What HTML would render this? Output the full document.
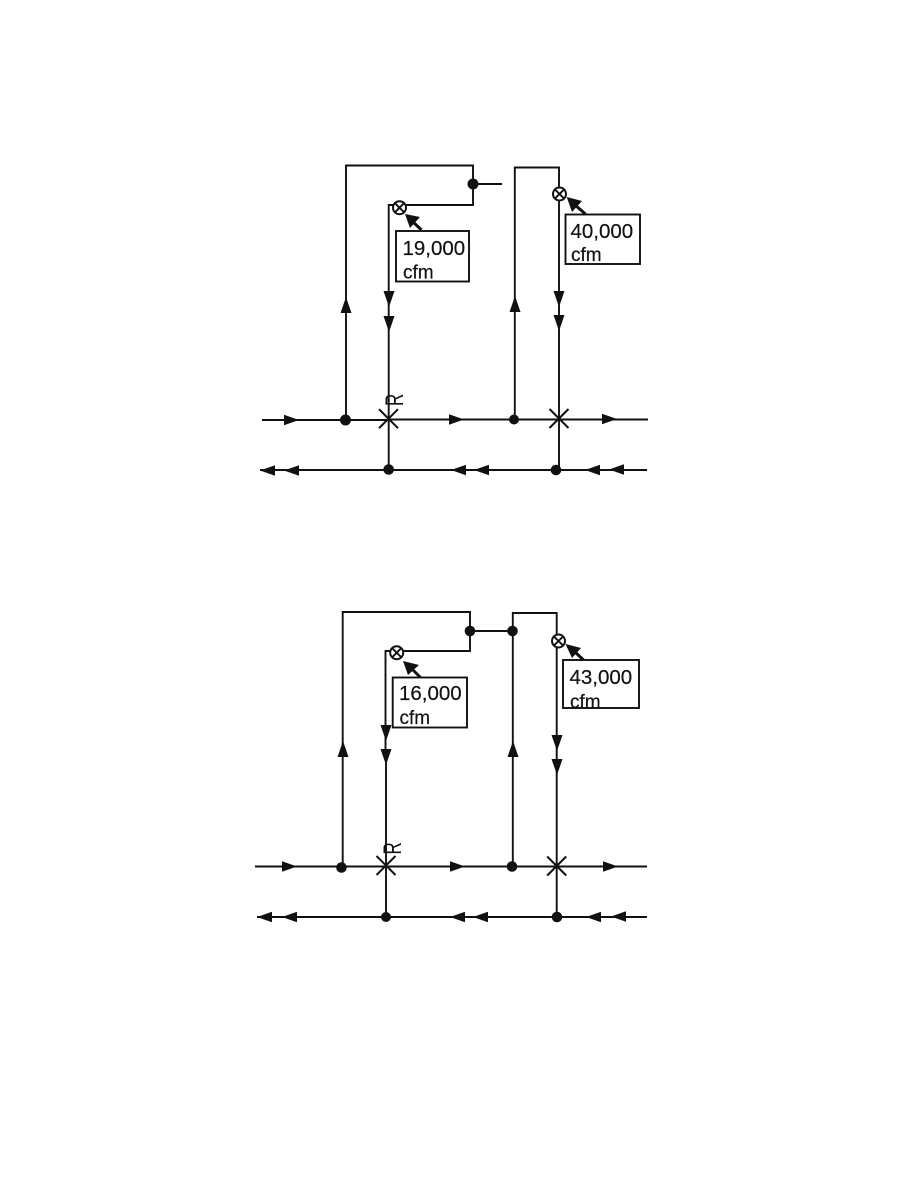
<!DOCTYPE html>
<html><head><meta charset="utf-8"><style>
html,body{margin:0;padding:0;background:#fff;width:918px;height:1188px;overflow:hidden}
svg{display:block}
text{font-family:"Liberation Sans",sans-serif;fill:#111;stroke:#111;stroke-width:.2}
</style></head><body>
<svg width="918" height="1188" viewBox="0 0 918 1188" xmlns="http://www.w3.org/2000/svg">
<defs>
<polygon id="r" points="0,0 -15,-5.2 -15,5.2" fill="#111"/>
<polygon id="l" points="0,0 15,-5.2 15,5.2" fill="#111"/>
<polygon id="u" points="0,0 -5.5,16 5.5,16" fill="#111"/>
<polygon id="d" points="0,0 -5.5,-16 5.5,-16" fill="#111"/>
<path id="x" d="M-9.5,-9.5L9.5,9.5M-9.5,9.5L9.5,-9.5" stroke="#111" stroke-width="2" fill="none"/>
<g id="v"><circle r="6.5" fill="#fff" stroke="#111" stroke-width="2"/><path d="M-4.6,-4.6L4.6,4.6M-4.6,4.6L4.6,-4.6" stroke="#111" stroke-width="1.9"/></g>
</defs>

<g fill="none" stroke="#111" stroke-width="1.9">
<path d="M262,420H388M388,419.5H648"/>
<path d="M260,470H647"/>
<path d="M346,420V165.5H473V205H388.7V470"/>
<path d="M473,184H502"/>
<path d="M514.8,420V167.5H559V470"/>
<rect x="396" y="231" width="73" height="50.5" fill="#fff"/>
<rect x="565.5" y="214.5" width="74.5" height="49.5" fill="#fff"/>

<path d="M255,866.5H647"/>
<path d="M257,917H647"/>
<path d="M342.7,867V612H470V651H385.5V760M386,760V917"/>
<path d="M470,631H513"/>
<path d="M512.8,867V613H556.7V917"/>
<rect x="392.7" y="677.5" width="74.3" height="50" fill="#fff"/>
<rect x="563" y="660" width="76" height="48" fill="#fff"/>
</g>

<g fill="#111">
<circle cx="345.5" cy="420" r="5.5"/><circle cx="514" cy="419.5" r="5"/><circle cx="388.7" cy="469.5" r="5.3"/><circle cx="556" cy="470" r="5.3"/><circle cx="473" cy="184" r="5.5"/>
<circle cx="341.5" cy="867.5" r="5.3"/><circle cx="512" cy="866.5" r="5.3"/><circle cx="386" cy="917" r="5"/><circle cx="557" cy="917" r="5.3"/><circle cx="470" cy="631" r="5.3"/><circle cx="512.5" cy="631" r="5.3"/>
</g>

<use href="#r" x="299" y="420"/><use href="#r" x="464" y="419.5"/><use href="#r" x="617" y="419"/>
<use href="#l" x="260" y="470.5"/><use href="#l" x="284" y="470.5"/><use href="#l" x="451" y="470"/><use href="#l" x="474" y="470"/><use href="#l" x="585" y="470"/><use href="#l" x="609" y="469.5"/>
<use href="#u" x="346" y="297"/><use href="#u" x="515" y="296"/>
<use href="#d" x="389" y="307"/><use href="#d" x="389" y="332"/><use href="#d" x="559" y="307"/><use href="#d" x="559" y="331"/>
<use href="#x" x="388.5" y="418.7"/><use href="#x" x="559" y="418.5"/>
<use href="#v" x="399.5" y="207.7"/><use href="#v" x="559.5" y="194"/>

<use href="#r" x="297" y="866.5"/><use href="#r" x="465" y="866.5"/><use href="#r" x="618" y="866.5"/>
<use href="#l" x="257" y="917"/><use href="#l" x="282" y="917"/><use href="#l" x="450" y="917"/><use href="#l" x="473" y="917"/><use href="#l" x="586" y="917"/><use href="#l" x="611" y="916.5"/>
<use href="#u" x="343" y="741"/><use href="#u" x="513" y="741"/>
<use href="#d" x="386" y="741"/><use href="#d" x="386" y="765"/><use href="#d" x="557" y="751"/><use href="#d" x="557" y="775"/>
<use href="#x" x="386" y="865.5"/><use href="#x" x="556.7" y="866"/>
<use href="#v" x="396.7" y="652.7"/><use href="#v" x="558.5" y="641"/>

<g stroke="#111" stroke-width="3" fill="none">
<path d="M421.5,230L412,221"/><path d="M585.5,214L575,205"/><path d="M420.5,677.5L411,668"/><path d="M583.5,660L575,652"/>
</g>
<g fill="#111">
<polygon points="405,214 420,217 410,228"/>
<polygon points="566.7,197 582,201 572,212"/>
<polygon points="403,661 419,665 408,675"/>
<polygon points="565.5,644 581,648 572,658"/>
</g>

<text x="402.5" y="255" font-size="20.5">19,000</text><text x="403" y="278.5" font-size="19">cfm</text>
<text x="570.5" y="238" font-size="20.5">40,000</text><text x="571" y="261" font-size="19">cfm</text>
<text x="399" y="700" font-size="20.5">16,000</text><text x="399.5" y="724" font-size="19">cfm</text>
<text x="569.5" y="684" font-size="20.5">43,000</text><text x="570" y="708" font-size="19">cfm</text>
<text transform="translate(403,406) rotate(-90) scale(.85,1.25)" font-size="20" style="stroke-width:0">R</text>
<text transform="translate(401,854.5) rotate(-90) scale(.85,1.25)" font-size="20" style="stroke-width:0">R</text>
</svg>
</body></html>
